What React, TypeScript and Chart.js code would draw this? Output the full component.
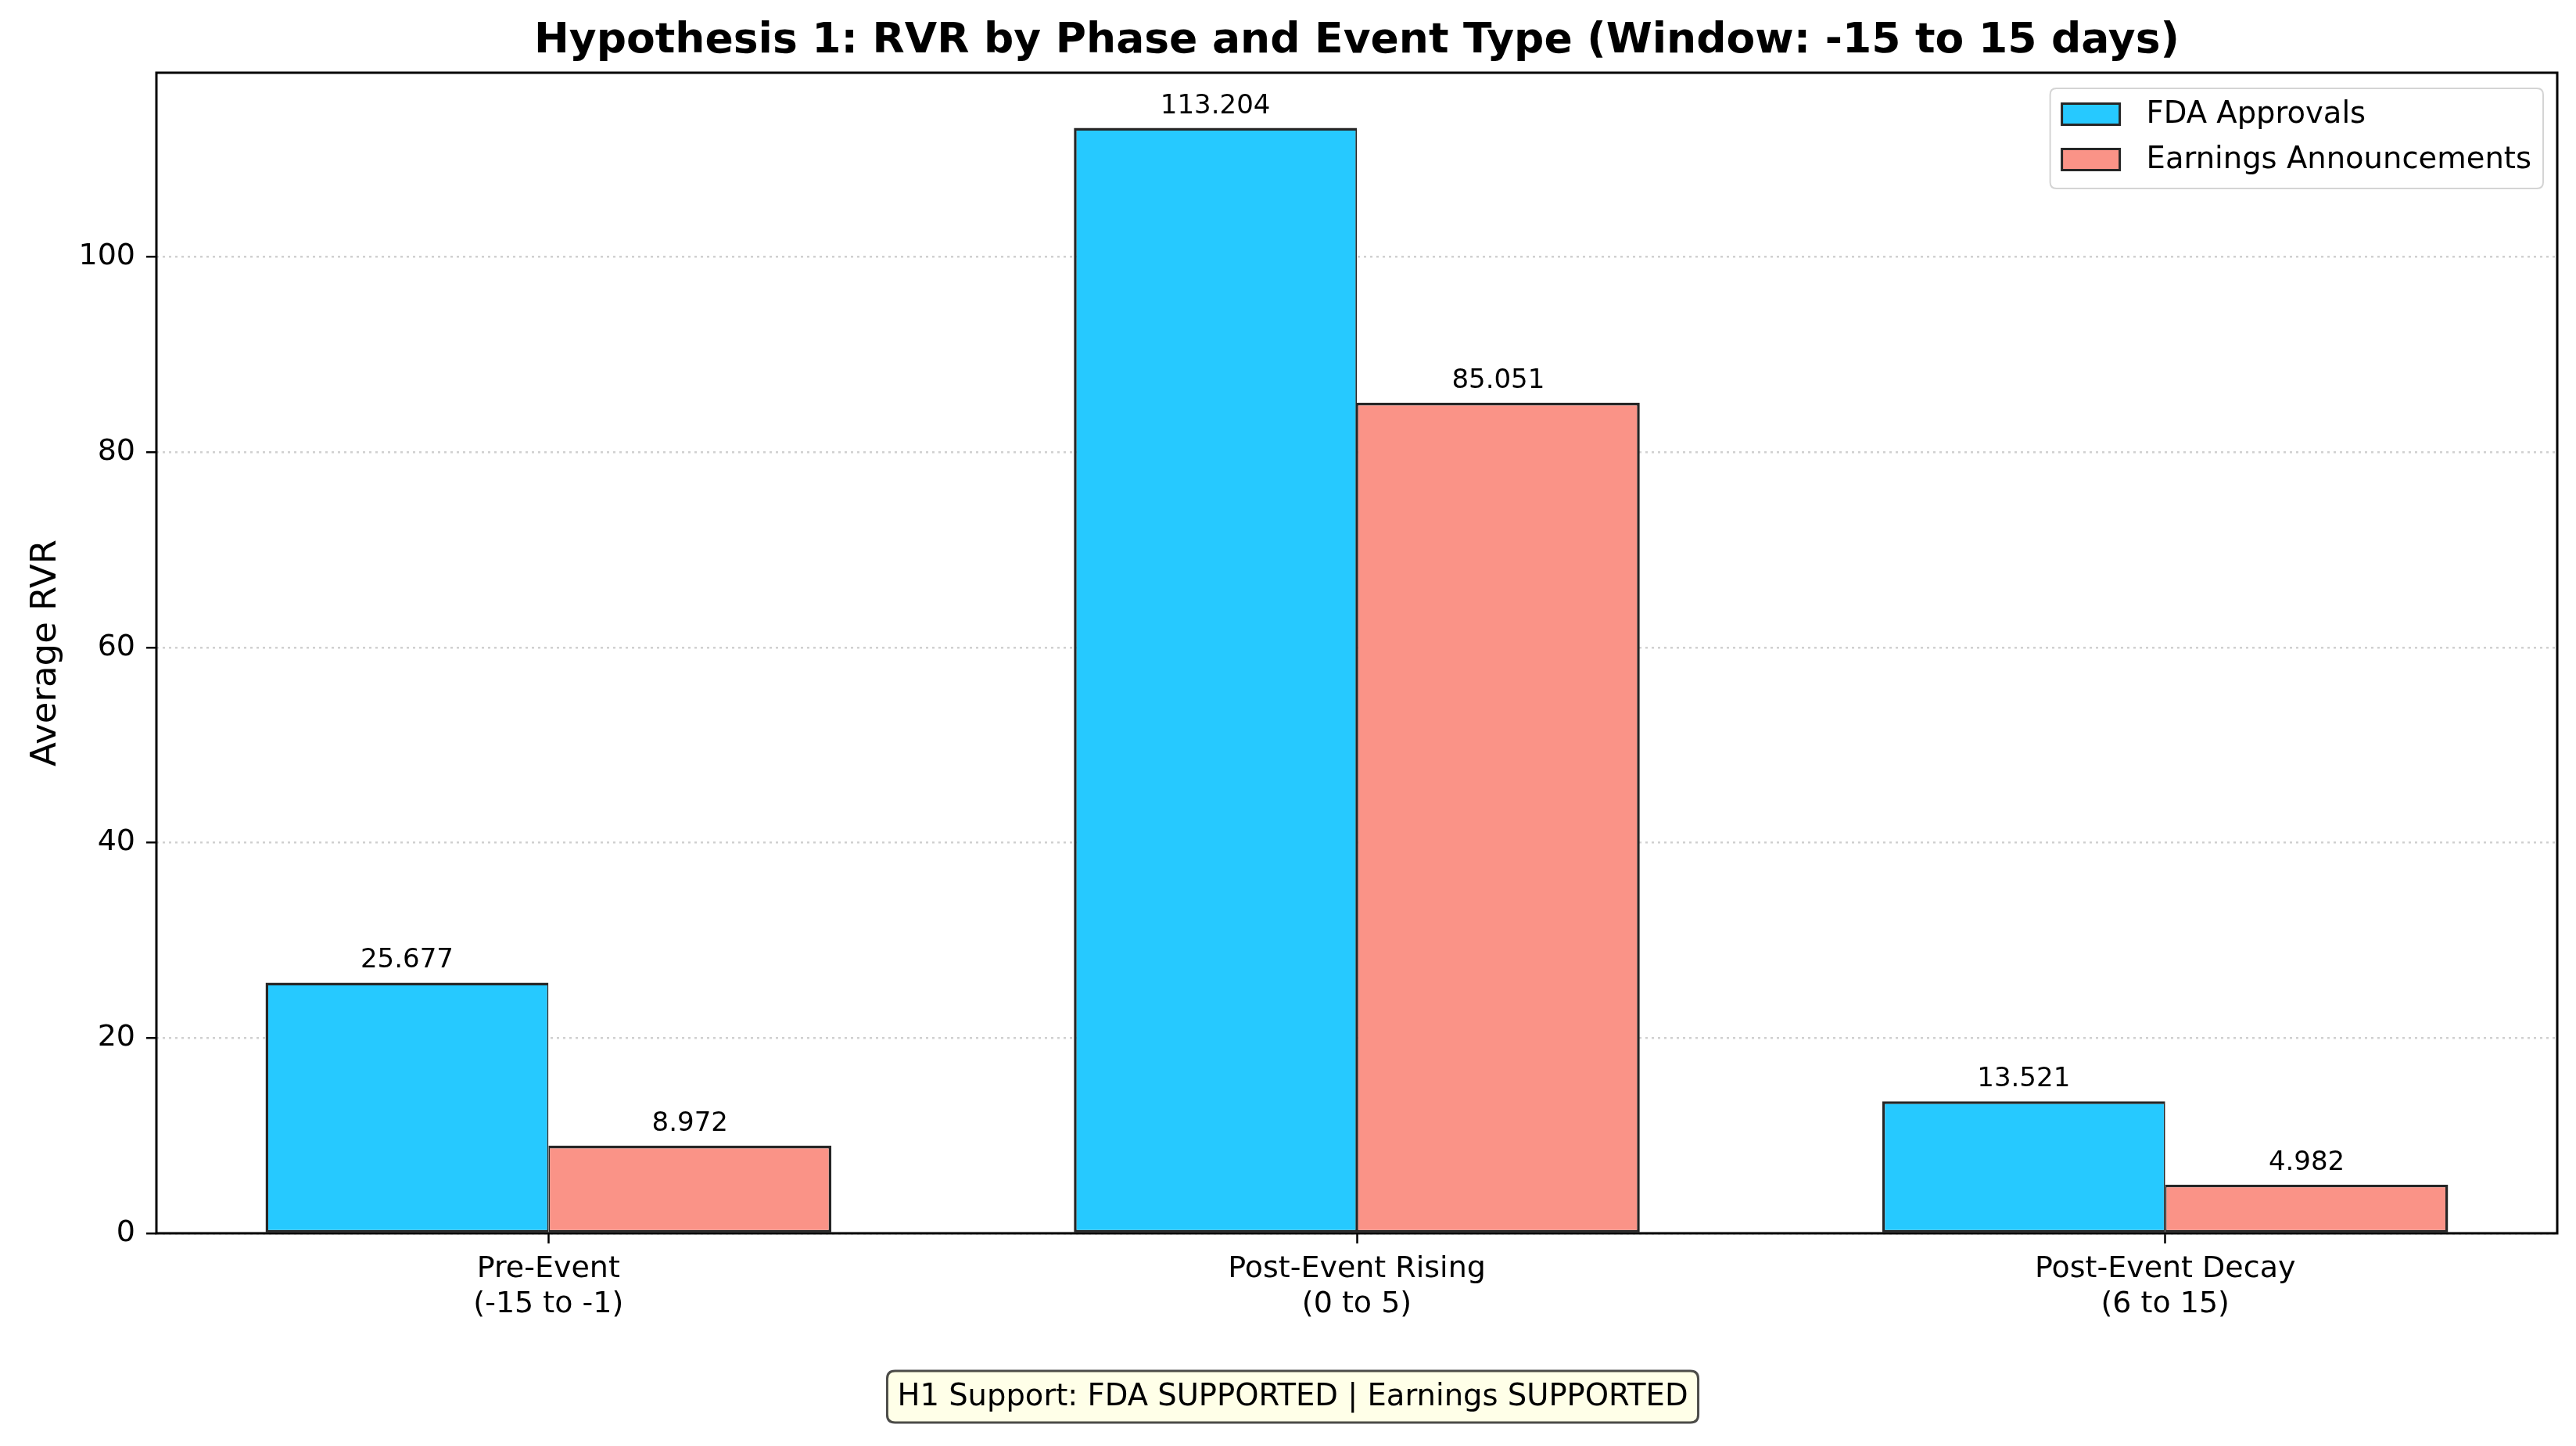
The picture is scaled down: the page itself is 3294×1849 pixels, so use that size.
import React, { useEffect, useRef } from "react";
import { Chart, registerables } from "chart.js";

Chart.register(...registerables);

// ---------- data ----------
const phaseLabels: string[][] = [
  ["Pre-Event", "(-15 to -1)"],
  ["Post-Event Rising", "(0 to 5)"],
  ["Post-Event Decay", "(6 to 15)"],
];
const phasePositions: number[] = [0, 1, 2];
const fdaValues: number[] = [25.677, 113.204, 13.521];
const earningsValues: number[] = [8.972, 85.051, 4.982];
const seriesLabels: string[] = ["FDA Approvals", "Earnings Announcements"];
const yTickValues: number[] = [0, 20, 40, 60, 80, 100];
const titleText = "Hypothesis 1: RVR by Phase and Event Type (Window: -15 to 15 days)";
const yAxisLabel = "Average RVR";
const supportText = "H1 Support: FDA SUPPORTED | Earnings SUPPORTED";

// ---------- layout / style constants ----------
const W = 3294;
const H = 1849;
const FONT = "'DejaVu Sans', sans-serif";
const X_MIN = -0.485;
const X_MAX = 2.485;
const Y_MIN = 0;
const Y_MAX = 118.86;

const FDA_FILL = "rgb(38,201,255)";
const EARN_FILL = "rgb(250,147,135)";
const EDGE = "rgb(38,38,38)";

function roundRectPath(ctx: CanvasRenderingContext2D, x: number, y: number, w: number, h: number, r: number) {
  ctx.beginPath();
  ctx.moveTo(x + r, y);
  ctx.lineTo(x + w - r, y);
  ctx.quadraticCurveTo(x + w, y, x + w, y + r);
  ctx.lineTo(x + w, y + h - r);
  ctx.quadraticCurveTo(x + w, y + h, x + w - r, y + h);
  ctx.lineTo(x + r, y + h);
  ctx.quadraticCurveTo(x, y + h, x, y + h - r);
  ctx.lineTo(x, y + r);
  ctx.quadraticCurveTo(x, y, x + r, y);
  ctx.closePath();
}

const overlayPlugin = {
  id: "overlay",
  afterDraw(chart: any) {
    const ctx: CanvasRenderingContext2D = chart.ctx;
    const a = chart.chartArea;
    ctx.save();

    // value labels above bars
    ctx.font = `34px ${FONT}`;
    ctx.fillStyle = "#000";
    ctx.textAlign = "center";
    ctx.textBaseline = "alphabetic";
    chart.data.datasets.forEach((ds: any, di: number) => {
      const meta = chart.getDatasetMeta(di);
      meta.data.forEach((bar: any, i: number) => {
        const v = ds.data[i].y as number;
        ctx.fillText(v.toFixed(3), bar.x, bar.y - 19);
      });
    });

    // axes frame (all four spines)
    ctx.strokeStyle = "#000";
    ctx.lineWidth = 3;
    ctx.strokeRect(a.left, a.top, a.right - a.left, a.bottom - a.top);

    // legend (upper right, inside plot)
    const lf = 38.5;
    ctx.font = `${lf}px ${FONT}`;
    const labels = chart.data.datasets.map((d: any) => d.label as string);
    const maxW = Math.max(...labels.map((t: string) => ctx.measureText(t).width));
    const pad = 15;
    const handleW = 74;
    const handleH = 27;
    const textGap = 34;
    const rowH = 58;
    const boxW = pad + handleW + textGap + maxW + pad;
    const boxH = 128;
    const boxRight = a.right - 18;
    const boxTop = a.top + 20;
    const boxLeft = boxRight - boxW;
    roundRectPath(ctx, boxLeft, boxTop, boxW, boxH, 8);
    ctx.fillStyle = "rgba(255,255,255,0.85)";
    ctx.fill();
    ctx.strokeStyle = "#d4d4d4";
    ctx.lineWidth = 2;
    ctx.stroke();
    chart.data.datasets.forEach((ds: any, di: number) => {
      const cy = boxTop + 33 + di * rowH;
      const hx = boxLeft + pad;
      ctx.fillStyle = ds.backgroundColor;
      ctx.fillRect(hx, cy - handleH / 2, handleW, handleH);
      ctx.strokeStyle = EDGE;
      ctx.lineWidth = 3;
      ctx.strokeRect(hx, cy - handleH / 2, handleW, handleH);
      ctx.fillStyle = "#000";
      ctx.textAlign = "left";
      ctx.textBaseline = "middle";
      ctx.fillText(ds.label, hx + handleW + textGap, cy + 1);
    });

    // support annotation box at bottom
    const af = 38.5;
    ctx.font = `${af}px ${FONT}`;
    const tw = ctx.measureText(supportText).width;
    const cx = 1653;
    const cyA = 1786;
    const bw = tw + 26;
    const bh = 66;
    roundRectPath(ctx, cx - bw / 2, cyA - bh / 2, bw, bh, 10);
    ctx.fillStyle = "rgb(255,255,232)";
    ctx.fill();
    ctx.strokeStyle = "rgba(0,0,0,0.7)";
    ctx.lineWidth = 3;
    ctx.stroke();
    ctx.fillStyle = "#000";
    ctx.textAlign = "center";
    ctx.textBaseline = "middle";
    ctx.fillText(supportText, cx, cyA + 1);

    ctx.restore();
  },
};

export default function App() {
  const ref = useRef<HTMLCanvasElement>(null);

  useEffect(() => {
    document.body.style.margin = "0";
    Chart.defaults.font.family = FONT;
    Chart.defaults.color = "#000";

    const chart = new Chart(ref.current as HTMLCanvasElement, {
      type: "bar",
      data: {
        datasets: [
          {
            label: seriesLabels[0],
            data: phasePositions.map((x, i) => ({ x, y: fdaValues[i] })),
            backgroundColor: FDA_FILL,
            borderColor: EDGE,
            borderWidth: { top: 3.5, left: 3.5, bottom: 3, right: 1.75 },
            borderSkipped: false,
            categoryPercentage: 0.7,
            barPercentage: 1.0,
          },
          {
            label: seriesLabels[1],
            data: phasePositions.map((x, i) => ({ x, y: earningsValues[i] })),
            backgroundColor: EARN_FILL,
            borderColor: EDGE,
            borderWidth: { top: 3.5, left: 1.75, bottom: 3, right: 3.5 },
            borderSkipped: false,
            categoryPercentage: 0.7,
            barPercentage: 1.0,
          },
        ],
      } as any,
      options: {
        animation: false,
        responsive: false,
        devicePixelRatio: 1,
        layout: { padding: { left: 0, right: W - 3270, top: 0, bottom: 0 } },
        plugins: {
          legend: { display: false },
          tooltip: { enabled: false },
          title: {
            display: true,
            text: titleText,
            fullSize: false,
            color: "#000",
            font: { size: 53.5, weight: "bold", family: FONT },
            padding: { top: 21.5, bottom: 7.3 },
          },
        },
        scales: {
          x: {
            type: "linear",
            min: X_MIN,
            max: X_MAX,
            offset: false,
            afterBuildTicks: (s: any) => {
              s.ticks = phasePositions.map((v) => ({ value: v }));
            },
            afterFit: (s: any) => {
              s.height = H - 1577;
            },
            grid: {
              offset: false,
              drawOnChartArea: false,
              drawTicks: true,
              tickLength: 13,
              tickColor: "#000",
              tickWidth: 2.5,
            },
            border: { display: false },
            ticks: {
              callback: (_v: any, i: number) => phaseLabels[i],
              font: { size: 38, family: FONT },
              color: "#000",
              padding: 10,
              maxRotation: 0,
              minRotation: 0,
              autoSkip: false,
            },
          },
          y: {
            type: "linear",
            min: Y_MIN,
            max: Y_MAX,
            z: 1,
            afterBuildTicks: (s: any) => {
              s.ticks = yTickValues.map((v) => ({ value: v }));
            },
            afterFit: (s: any) => {
              s.width = 200;
            },
            grid: {
              color: "rgba(176,176,176,0.6)",
              lineWidth: 2.5,
              drawTicks: true,
              tickLength: 13,
              tickColor: "#000",
              tickWidth: 2.5,
              tickBorderDash: [],
            },
            border: { display: false, dash: [3, 5] },
            ticks: {
              font: { size: 38, family: FONT },
              color: "#000",
              padding: 14,
            },
            title: {
              display: true,
              text: yAxisLabel,
              color: "#000",
              font: { size: 45, family: FONT },
              padding: { top: 32, bottom: 0 },
            },
          },
        },
      } as any,
      plugins: [overlayPlugin],
    });

    return () => chart.destroy();
  }, []);

  return (
    <div style={{ width: W, height: H, background: "#fff" }}>
      <canvas ref={ref} width={W} height={H} style={{ width: W, height: H, display: "block" }} />
    </div>
  );
}
